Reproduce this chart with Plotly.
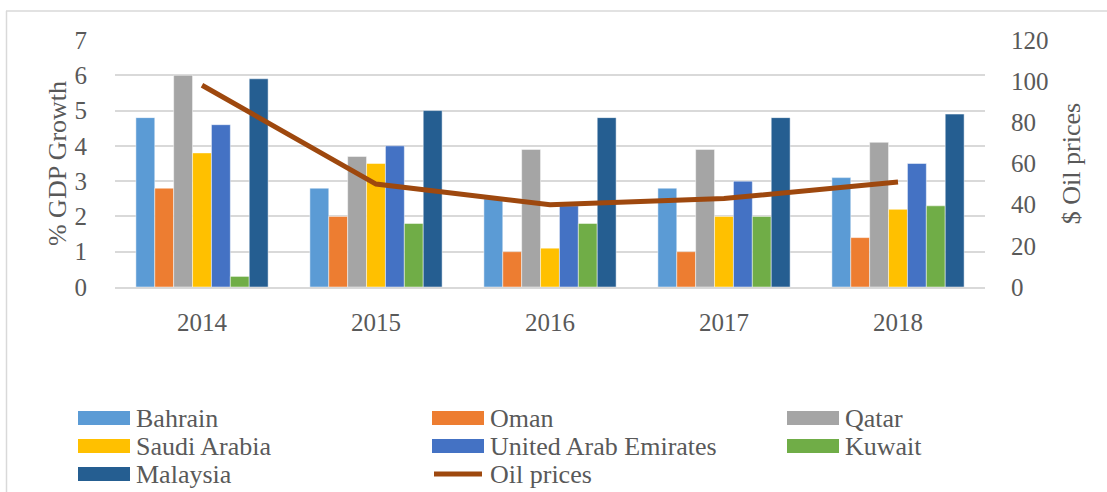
import plotly.graph_objects as go

years = ["2014", "2015", "2016", "2017", "2018"]
bahrain = [4.8, 2.8, 2.5, 2.8, 3.1]
oman = [2.8, 2.0, 1.0, 1.0, 1.4]
qatar = [6.0, 3.7, 3.9, 3.9, 4.1]
saudi = [3.8, 3.5, 1.1, 2.0, 2.2]
uae = [4.6, 4.0, 2.3, 3.0, 3.5]
kuwait = [0.3, 1.8, 1.8, 2.0, 2.3]
malaysia = [5.9, 5.0, 4.8, 4.8, 4.9]
oil_prices = [98, 50, 40, 43, 51]

series_names = ["Bahrain", "Oman", "Qatar", "Saudi Arabia", "United Arab Emirates", "Kuwait", "Malaysia"]
series_values = [bahrain, oman, qatar, saudi, uae, kuwait, malaysia]
series_colors = ["#5B9BD5", "#ED7D31", "#A5A5A5", "#FFC000", "#4472C4", "#70AD47", "#255E91"]
oil_name = "Oil prices"
oil_color = "#9E480E"

left_ticks = [0, 1, 2, 3, 4, 5, 6, 7]
right_ticks = [0, 20, 40, 60, 80, 100, 120]

FONT = "Times New Roman, Liberation Serif, serif"
GREY = "#595959"
GRID = "#D9D9D9"

W, H = 1107, 492
L, R, T, B = 115, 985, 40, 287

fig = go.Figure()
for name, vals, col in zip(series_names, series_values, series_colors):
    fig.add_trace(go.Bar(x=years, y=vals, name=name, marker_color=col,
                         marker_line=dict(color="rgba(255,255,255,0.6)", width=0.8),
                         showlegend=False))
fig.add_trace(go.Scatter(x=years, y=oil_prices, name=oil_name, mode="lines",
                         line=dict(color=oil_color, width=5), yaxis="y2",
                         showlegend=False))


def px_x(p):
    return (p - L) / (R - L)


def px_y(p):
    return (B - p) / (B - T)


shapes = []
annotations = []
# manual legend
legend_cols = [[0, 3, 6], [1, 4, 7], [2, 5]]
col_x = [78, 432, 787]
row_y = [418, 446, 474]
all_names = series_names + [oil_name]
all_colors = series_colors + [oil_color]
for ci, idxs in enumerate(legend_cols):
    for ri, idx in enumerate(idxs):
        x0 = col_x[ci]
        yc = row_y[ri]
        if idx == 7:
            shapes.append(dict(type="line", xref="paper", yref="paper",
                               x0=px_x(x0 + 2), x1=px_x(x0 + 50), y0=px_y(yc), y1=px_y(yc),
                               line=dict(color=all_colors[idx], width=5)))
        else:
            shapes.append(dict(type="rect", xref="paper", yref="paper",
                               x0=px_x(x0), x1=px_x(x0 + 52), y0=px_y(yc - 7), y1=px_y(yc + 7),
                               fillcolor=all_colors[idx], line=dict(width=0)))
        annotations.append(dict(text=all_names[idx], xref="paper", yref="paper",
                                x=px_x(x0 + 56), y=px_y(yc), xanchor="left", yanchor="middle",
                                showarrow=False, font=dict(family=FONT, size=26, color=GREY)))

# outer border (left and top visible)
shapes.append(dict(type="line", xref="paper", yref="paper", x0=px_x(6.5), x1=px_x(6.5),
                   y0=px_y(11), y1=px_y(500), line=dict(color=GRID, width=1.5)))
shapes.append(dict(type="line", xref="paper", yref="paper", x0=px_x(6), x1=px_x(1110),
                   y0=px_y(11), y1=px_y(11), line=dict(color=GRID, width=1.5)))

fig.update_layout(
    width=W, height=H,
    margin=dict(l=L, r=W - R, t=T, b=H - B, pad=0),
    paper_bgcolor="white", plot_bgcolor="white",
    barmode="group", bargap=0.24, bargroupgap=0,
    font=dict(family=FONT, size=25, color=GREY),
    showlegend=False,
    xaxis=dict(showgrid=False, showline=True, linecolor=GRID, linewidth=2,
               ticks="outside", ticklen=12, tickcolor="rgba(0,0,0,0)",
               tickfont=dict(family=FONT, size=25, color=GREY)),
    yaxis=dict(range=[0, 7], tickvals=left_ticks, showgrid=True, gridcolor=GRID, gridwidth=1.5,
               zeroline=False, showline=False,
               ticks="outside", ticklen=22, tickcolor="rgba(0,0,0,0)",
               tickfont=dict(family=FONT, size=25, color=GREY),
               title=dict(text="% GDP Growth", font=dict(family=FONT, size=26, color=GREY), standoff=0)),
    yaxis2=dict(range=[0, 120], tickvals=right_ticks, overlaying="y", side="right",
                showgrid=False, zeroline=False, showline=False,
                ticks="outside", ticklen=20, tickcolor="rgba(0,0,0,0)",
                tickfont=dict(family=FONT, size=25, color=GREY),
                title=dict(text="$ Oil prices", font=dict(family=FONT, size=26, color=GREY), standoff=14)),
    shapes=shapes,
    annotations=annotations,
)

fig.write_html("out.html", config={"displayModeBar": False},
               post_script="document.body.style.margin='0';document.body.style.overflow='hidden';")
